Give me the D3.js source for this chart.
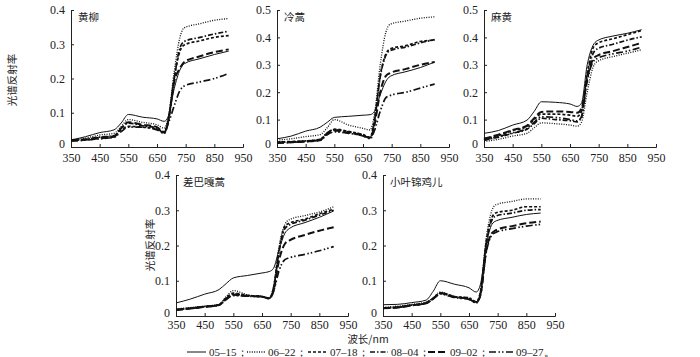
<!DOCTYPE html>
<html>
<head>
<meta charset="utf-8">
<script src="https://cdn.jsdelivr.net/npm/d3@7"></script>
<style>
  body { margin: 0; background: #fff; }
  svg { display: block; }
  .cn { font-family: "Noto Sans CJK SC", sans-serif; font-size: 10.5px; fill: #222; }
  .num { font-family: "Liberation Serif", "Times New Roman", serif; }
</style>
</head>
<body>
<svg id="chart" width="700" height="357"></svg>
<script>
// wavelengths (nm)
const wl = [350, 400, 450, 500, 525, 550, 600, 650, 675, 690, 710, 730, 745, 800, 850, 900];
const dates = ["05–15", "06–22", "07–18", "08–04", "09–02", "09–27"];
const titles = ["黄柳", "冷蒿", "麻黄", "差巴嘎蒿", "小叶锦鸡儿"];
const yMax = [0.4, 0.5, 0.5, 0.4, 0.4];

// 黄柳
const huangliu = [
  [0.020, 0.030, 0.042, 0.050, 0.070, 0.095, 0.087, 0.082, 0.075, 0.090, 0.170, 0.225, 0.243, 0.258, 0.270, 0.280],
  [0.022, 0.026, 0.035, 0.040, 0.060, 0.080, 0.072, 0.065, 0.055, 0.090, 0.220, 0.320, 0.348, 0.360, 0.370, 0.375],
  [0.020, 0.022, 0.028, 0.032, 0.050, 0.060, 0.058, 0.052, 0.045, 0.080, 0.200, 0.280, 0.298, 0.310, 0.320, 0.325],
  [0.020, 0.023, 0.029, 0.033, 0.055, 0.070, 0.062, 0.055, 0.040, 0.080, 0.200, 0.290, 0.308, 0.320, 0.330, 0.338],
  [0.018, 0.021, 0.025, 0.030, 0.055, 0.072, 0.065, 0.058, 0.042, 0.080, 0.190, 0.230, 0.248, 0.265, 0.277, 0.285],
  [0.018, 0.020, 0.024, 0.028, 0.045, 0.058, 0.058, 0.050, 0.040, 0.070, 0.120, 0.165, 0.178, 0.190, 0.200, 0.215]
];
// 冷蒿
const lenghao = [
  [0.030, 0.040, 0.058, 0.072, 0.090, 0.108, 0.112, 0.116, 0.118, 0.130, 0.190, 0.240, 0.258, 0.275, 0.290, 0.310],
  [0.025, 0.030, 0.038, 0.045, 0.070, 0.100, 0.080, 0.068, 0.062, 0.120, 0.300, 0.420, 0.448, 0.460, 0.470, 0.475],
  [0.018, 0.020, 0.022, 0.028, 0.050, 0.065, 0.057, 0.045, 0.035, 0.100, 0.260, 0.340, 0.358, 0.370, 0.385, 0.390],
  [0.017, 0.019, 0.022, 0.027, 0.052, 0.063, 0.055, 0.044, 0.034, 0.095, 0.255, 0.335, 0.352, 0.365, 0.380, 0.392],
  [0.015, 0.017, 0.020, 0.025, 0.048, 0.060, 0.052, 0.042, 0.033, 0.080, 0.200, 0.260, 0.270, 0.285, 0.300, 0.310],
  [0.015, 0.017, 0.020, 0.024, 0.045, 0.055, 0.050, 0.040, 0.030, 0.060, 0.130, 0.180, 0.188, 0.200, 0.215, 0.230]
];
// 麻黄
const mahuang = [
  [0.050, 0.060, 0.080, 0.098, 0.130, 0.165, 0.163, 0.157, 0.148, 0.160, 0.300, 0.370, 0.388, 0.405, 0.415, 0.428],
  [0.020, 0.028, 0.040, 0.050, 0.070, 0.088, 0.085, 0.080, 0.076, 0.090, 0.200, 0.290, 0.312, 0.330, 0.342, 0.355],
  [0.030, 0.042, 0.060, 0.075, 0.100, 0.120, 0.120, 0.116, 0.112, 0.130, 0.270, 0.360, 0.378, 0.395, 0.410, 0.425],
  [0.025, 0.036, 0.050, 0.065, 0.085, 0.105, 0.100, 0.096, 0.092, 0.110, 0.260, 0.340, 0.358, 0.375, 0.390, 0.402],
  [0.030, 0.045, 0.062, 0.078, 0.105, 0.128, 0.130, 0.128, 0.125, 0.140, 0.250, 0.320, 0.333, 0.350, 0.365, 0.380],
  [0.025, 0.038, 0.052, 0.068, 0.090, 0.110, 0.108, 0.100, 0.095, 0.110, 0.240, 0.310, 0.323, 0.340, 0.350, 0.365]
];
// 差巴嘎蒿
const chabagahao = [
  [0.037, 0.048, 0.062, 0.075, 0.092, 0.108, 0.115, 0.122, 0.126, 0.135, 0.190, 0.235, 0.248, 0.265, 0.280, 0.298],
  [0.020, 0.024, 0.028, 0.033, 0.055, 0.072, 0.060, 0.055, 0.050, 0.080, 0.200, 0.260, 0.273, 0.285, 0.295, 0.310],
  [0.018, 0.022, 0.027, 0.032, 0.052, 0.065, 0.058, 0.055, 0.050, 0.080, 0.190, 0.255, 0.263, 0.275, 0.290, 0.303],
  [0.018, 0.022, 0.027, 0.032, 0.050, 0.062, 0.058, 0.055, 0.050, 0.078, 0.185, 0.248, 0.258, 0.272, 0.286, 0.300],
  [0.017, 0.021, 0.026, 0.031, 0.048, 0.060, 0.057, 0.055, 0.050, 0.070, 0.160, 0.205, 0.214, 0.230, 0.242, 0.252],
  [0.017, 0.021, 0.026, 0.031, 0.047, 0.058, 0.056, 0.055, 0.050, 0.070, 0.130, 0.160, 0.165, 0.175, 0.185, 0.197]
];
// 小叶锦鸡儿
const xiaoyejinjier = [
  [0.032, 0.033, 0.038, 0.045, 0.070, 0.100, 0.090, 0.080, 0.068, 0.090, 0.200, 0.260, 0.270, 0.280, 0.288, 0.292],
  [0.025, 0.028, 0.033, 0.040, 0.052, 0.068, 0.055, 0.048, 0.038, 0.070, 0.220, 0.300, 0.316, 0.325, 0.332, 0.332],
  [0.023, 0.025, 0.031, 0.037, 0.050, 0.065, 0.055, 0.050, 0.040, 0.068, 0.210, 0.280, 0.293, 0.300, 0.310, 0.310],
  [0.023, 0.025, 0.031, 0.037, 0.050, 0.064, 0.054, 0.052, 0.040, 0.066, 0.205, 0.272, 0.284, 0.292, 0.300, 0.302],
  [0.022, 0.024, 0.030, 0.036, 0.049, 0.065, 0.054, 0.048, 0.038, 0.060, 0.185, 0.235, 0.244, 0.255, 0.263, 0.268],
  [0.022, 0.024, 0.030, 0.036, 0.048, 0.062, 0.052, 0.047, 0.037, 0.058, 0.180, 0.230, 0.238, 0.248, 0.255, 0.260]
];
const panelData = [huangliu, lenghao, mahuang, chabagahao, xiaoyejinjier];

// line styles for each date
const styles = [
  { dash: null, w: 1.0 },
  { dash: "1,1.4", w: 1.3 },
  { dash: "3,2", w: 1.7 },
  { dash: "5,2,1.5,2", w: 1.7 },
  { dash: "7,3", w: 2.0 },
  { dash: "7,2.5,1.5,2,1.5,2.5", w: 1.7 }
];

// panel frames: x range and y range in px
const frames = [
  { x0: 71, x1: 243, y0: 147, y1: 10, pad: 6 },
  { x0: 277, x1: 449, y0: 147, y1: 10, pad: 6 },
  { x0: 484, x1: 656, y0: 147, y1: 10, pad: 6 },
  { x0: 176, x1: 348, y0: 316, y1: 175, pad: 4 },
  { x0: 383, x1: 555, y0: 316, y1: 175, pad: 4 }
];

const svg = d3.select("#chart");
const ink = "#222";

frames.forEach((f, i) => {
  const x = d3.scaleLinear().domain([350, 950]).range([f.x0, f.x1]);
  const y = d3.scaleLinear().domain([0, yMax[i]]).range([f.y0, f.y1]);
  const g = svg.append("g");

  const xa = g.append("g").attr("transform", `translate(0,${f.y0})`)
    .call(d3.axisBottom(x).tickValues(d3.range(350, 951, 100)).tickSize(-3).tickPadding(f.pad).tickFormat(d3.format("d")));
  const ya = g.append("g").attr("transform", `translate(${f.x0},0)`)
    .call(d3.axisLeft(y).ticks(yMax[i] * 10).tickSize(-3).tickPadding(6).tickFormat(d => d === 0 ? "0" : d.toFixed(1)));
  [xa, ya].forEach(a => {
    a.attr("font-family", null).attr("font-size", null);
    a.select(".domain").attr("stroke", ink);
    a.selectAll(".tick line").attr("stroke", ink);
    a.selectAll(".tick text").attr("class", "num").attr("fill", ink).style("font-size", "12px");
  });
  ya.selectAll(".tick text").filter(d => d === 0).attr("dy", "0.05em");

  g.append("text").attr("class", "cn")
    .attr("x", f.x0 + 7).attr("y", f.y1 + 11)
    .text(titles[i]);

  const line = d3.line().x(d => x(d[0])).y(d => y(d[1])).curve(d3.curveMonotoneX);
  panelData[i].forEach((vals, s) => {
    g.append("path")
      .datum(wl.map((w, k) => [w, vals[k]]))
      .attr("fill", "none")
      .attr("stroke", "#111")
      .attr("stroke-width", styles[s].w)
      .attr("stroke-dasharray", styles[s].dash)
      .attr("d", line);
  });
});

// y axis titles
[[13, 80], [151, 245]].forEach(([cx, cy]) => {
  svg.append("text").attr("class", "cn")
    .attr("transform", `translate(${cx},${cy}) rotate(-90)`)
    .attr("text-anchor", "middle").attr("dominant-baseline", "middle")
    .text("光谱反射率");
});

// x axis title
svg.append("text").attr("class", "cn")
  .attr("x", 368).attr("y", 343).attr("text-anchor", "middle")
  .text("波长/nm");

// legend
const legendX = [187, 247, 308, 370, 428, 489];
const legendLen = [19, 18, 19, 18, 19, 24];
const lg = svg.append("g").attr("transform", "translate(0,352)");
dates.forEach((d, s) => {
  lg.append("line")
    .attr("x1", legendX[s]).attr("x2", legendX[s] + legendLen[s])
    .attr("y1", 0).attr("y2", 0)
    .attr("stroke", "#111")
    .attr("stroke-width", styles[s].w)
    .attr("stroke-dasharray", styles[s].dash);
  lg.append("text").attr("class", "num")
    .attr("x", legendX[s] + legendLen[s] + 3).attr("y", 4)
    .attr("fill", ink).style("font-size", "11px")
    .text(d + (s < 5 ? "；" : "。"));
});
</script>
</body>
</html>
